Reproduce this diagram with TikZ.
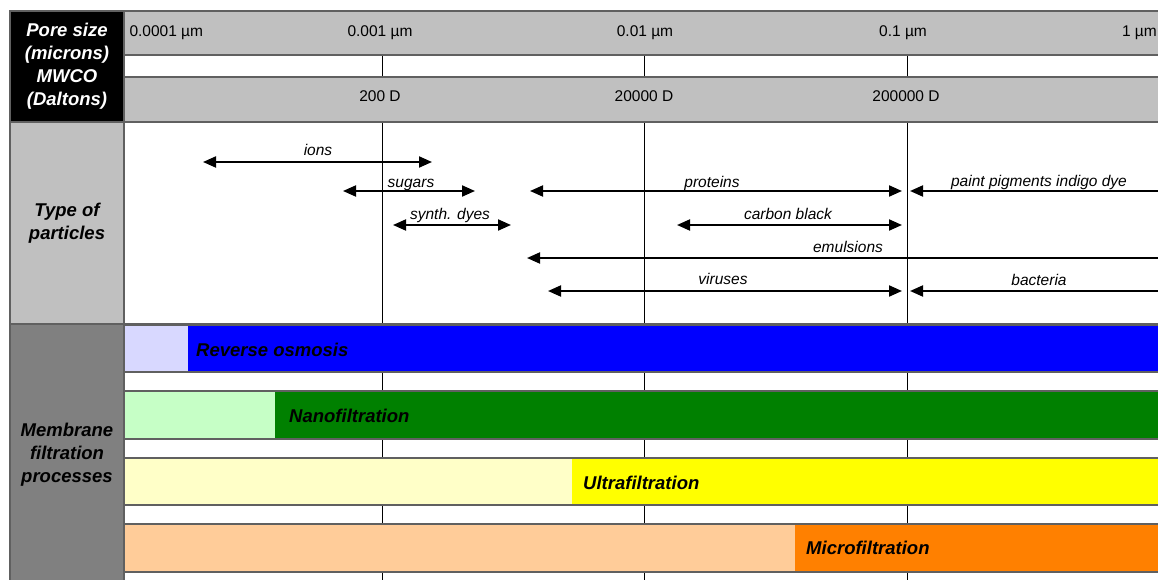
\documentclass[tikz,border=0pt]{standalone}
\usepackage{fontspec}
\setmainfont{Liberation Sans}
\usetikzlibrary{arrows.meta}

\definecolor{hdrgray}{HTML}{C0C0C0}
\definecolor{sidegray}{HTML}{808080}
\definecolor{rulegray}{HTML}{606060}
\definecolor{roLight}{HTML}{D8D8FF}
\definecolor{roDark}{HTML}{0000FF}
\definecolor{nfLight}{HTML}{C6FFC6}
\definecolor{nfDark}{HTML}{008000}
\definecolor{ufLight}{HTML}{FFFFC8}
\definecolor{ufDark}{HTML}{FFFF00}
\definecolor{mfLight}{HTML}{FFCC99}
\definecolor{mfDark}{HTML}{FF8000}

\begin{document}
\begin{tikzpicture}[x=1pt,y=-1pt,>={Triangle[length=13pt,width=11pt]},
  hdr/.style={font=\fontsize{18.5}{23}\selectfont\bfseries\itshape,align=center},
  tick/.style={font=\fontsize{15.5}{18}\selectfont,anchor=base},
  part/.style={font=\fontsize{15.5}{18}\selectfont\itshape,anchor=base},
  proc/.style={font=\fontsize{18.5}{22}\selectfont\bfseries\itshape,anchor=west},
  sizespan/.style={line width=2pt},
  rule/.style={draw=rulegray,line width=1.3pt}]
\useasboundingbox (0,0) rectangle (1158,580);

% grid lines
\foreach \gx in {382,644,907}{\draw[line width=1pt] (\gx,55) -- (\gx,580);}

% header rows and side column
\fill[hdrgray] (124,11) rectangle (1158,55);
\fill[hdrgray] (124,77) rectangle (1158,122);
\fill[black] (10,11) rectangle (124,122);
\fill[hdrgray] (10,122) rectangle (124,324);
\fill[sidegray] (10,324) rectangle (124,580);

% process bars
\foreach \ya/\yb/\xs/\lite/\dark in {325/372/188/roLight/roDark,391/439/275/nfLight/nfDark,
    458/505/572/ufLight/ufDark,524/572/795/mfLight/mfDark}{
  \fill[fill=\lite] (124,\ya) rectangle (\xs,\yb);
  \fill[fill=\dark] (\xs,\ya) rectangle (1158,\yb);
  \draw[rule] (124,\ya) -- (1158,\ya) (124,\yb) -- (1158,\yb);
}

% cell rules
\foreach \yy in {55,77,122,324}{\draw[rule] (124,\yy) -- (1158,\yy);}
\draw[rule] (10,122) -- (124,122) (10,324) -- (124,324);
\draw[rule] (124,11) -- (124,580);
\draw[draw=rulegray,line width=2pt] (10,580) -- (10,11) -- (1158,11);

% side headings
\node[hdr,text=white] (porehdr) at (67,66) {Pore size\\(microns)\\MWCO\\(Daltons)};
\node[hdr] (typehdr) at (67,223) {Type of\\particles};
\node[hdr] (memhdr) at (67,455) {Membrane\\filtration\\processes};

% pore size and MWCO scale
\node[tick,anchor=base west] (p4) at (126,37) {0.0001 µm};
\node[tick] (p3) at (380,37) {0.001 µm};
\node[tick] (p2) at (645,37) {0.01 µm};
\node[tick] (p1) at (903,37) {0.1 µm};
\node[tick,anchor=base east,inner xsep=1pt] (p0) at (1158,37) {1 µm};
\node[tick] (d3) at (380,102) {200 D};
\node[tick] (d2) at (644,102) {20000 D};
\node[tick] (d1) at (906,102) {200000 D};

% particle ranges
\foreach \nm/\xa/\xb/\yy/\lx/\ly/\txt in {ions/203/432/162/318/156/ions,
    sugars/343/475/191/411/188/sugars,dyes/393/511/225/450/219/synth. dyes,
    proteins/530/902/191/712/188/proteins,carbon/677/902/225/788/219/carbon black,
    viruses/548/902/291/723/284/viruses}{
  \coordinate (\nm-l) at (\xa,\yy);
  \coordinate (\nm-r) at (\xb,\yy);
  \draw[sizespan,<->] (\nm-l) -- (\nm-r);
  \node[part] (\nm) at (\lx,\ly) {\txt};
}
\foreach \nm/\xa/\yy/\lx/\ly/\txt in {paint/910/191/1039/186/paint pigments indigo dye,
    emulsions/527/258/848/252/emulsions,bacteria/910/291/1039/285/bacteria}{
  \coordinate (\nm-l) at (\xa,\yy);
  \coordinate (\nm-r) at (1158,\yy);
  \draw[sizespan,<-] (\nm-l) -- (\nm-r);
  \node[part] (\nm) at (\lx,\ly) {\txt};
}

% process names
\node[proc] (ro) at (192.7,350) {Reverse osmosis};
\node[proc] (nf) at (285.7,416) {Nanofiltration};
\node[proc] (uf) at (579.7,483) {Ultrafiltration};
\node[proc] (mf) at (802.7,548) {Microfiltration};
\end{tikzpicture}
\end{document}
